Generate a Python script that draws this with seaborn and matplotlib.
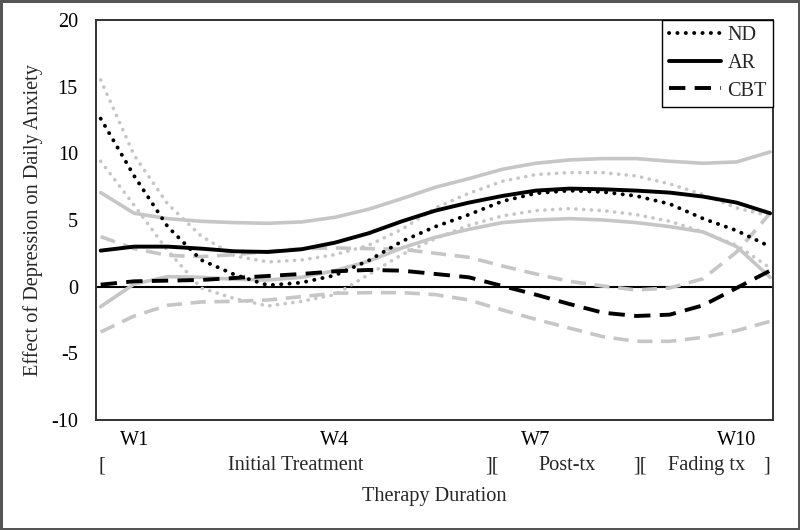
import numpy as np
import pandas as pd
import matplotlib
matplotlib.use("Agg")
import matplotlib.pyplot as plt
import seaborn as sns

sns.set_style("white")
plt.rcParams["font.family"] = ["Liberation Serif", "DejaVu Serif"]
plt.rcParams["axes.unicode_minus"] = False

# ---- data ----
weeks = [0.5, 1, 1.5, 2, 2.5, 3, 3.5, 4, 4.5, 5, 5.5, 6, 6.5, 7, 7.5, 8, 8.5, 9, 9.5, 10, 10.5]

nd_mean = [12.6, 8.3, 4.5, 2.0, 0.9, 0.1, 0.3, 0.85, 1.95, 3.4, 4.5, 5.4, 6.4, 7.0, 7.2, 7.1, 6.8, 6.2, 5.1, 4.2, 3.0]
nd_upper = [15.5, 9.85, 6.2, 3.8, 2.3, 1.85, 2.0, 2.4, 3.1, 4.3, 5.9, 7.0, 7.9, 8.4, 8.55, 8.55, 8.3, 7.7, 6.9, 5.9, 5.3]
nd_lower = [9.4, 6.1, 2.7, -0.1, -0.9, -1.45, -1.1, -0.6, 0.9, 2.4, 3.6, 4.6, 5.3, 5.7, 5.85, 5.7, 5.4, 4.9, 4.1, 3.1, 1.4]

ar_mean = [2.7, 3.0, 3.0, 2.85, 2.65, 2.6, 2.8, 3.3, 4.0, 4.9, 5.7, 6.3, 6.8, 7.2, 7.35, 7.3, 7.2, 7.05, 6.75, 6.3, 5.5]
ar_upper = [7.05, 5.5, 5.1, 4.9, 4.8, 4.75, 4.85, 5.2, 5.8, 6.6, 7.45, 8.1, 8.8, 9.25, 9.5, 9.6, 9.6, 9.4, 9.25, 9.35, 10.1]
ar_lower = [-1.5, 0.2, 0.75, 0.7, 0.55, 0.5, 0.7, 1.2, 1.9, 2.9, 3.7, 4.3, 4.8, 5.0, 5.1, 5.0, 4.8, 4.5, 4.1, 3.0, 0.7]

cbt_mean = [0.15, 0.4, 0.45, 0.5, 0.65, 0.8, 0.95, 1.15, 1.25, 1.2, 0.95, 0.7, 0.05, -0.6, -1.3, -1.95, -2.2, -2.1, -1.4, -0.1, 1.2]
cbt_upper = [3.75, 2.85, 2.35, 2.25, 2.4, 2.65, 2.85, 2.9, 2.85, 2.8, 2.5, 2.2, 1.55, 0.95, 0.4, 0.05, -0.25, -0.1, 0.6, 2.6, 5.5]
cbt_lower = [-3.4, -2.2, -1.4, -1.15, -1.1, -1.0, -0.75, -0.5, -0.45, -0.45, -0.6, -1.0, -1.75, -2.45, -3.1, -3.75, -4.1, -4.1, -3.8, -3.3, -2.6]

groups = ["ND", "AR", "CBT"]
week_ticks = [1, 4, 7, 10]
week_labels = ["W1", "W4", "W7", "W10"]
phase_texts = ["[", "Initial Treatment", "][", "Post-tx", "][", "Fading tx", "]"]
phase_pos = [0.52, 3.42, 6.34, 7.46, 8.55, 9.55, 10.45]
y_ticks = [-10, -5, 0, 5, 10, 15, 20]

series = {
    "ND": (nd_mean, nd_upper, nd_lower),
    "AR": (ar_mean, ar_upper, ar_lower),
    "CBT": (cbt_mean, cbt_upper, cbt_lower),
}

rows = []
for g in groups:
    m, u, l = series[g]
    for kind, vals in (("mean", m), ("upper", u), ("lower", l)):
        for w, v in zip(weeks, vals):
            rows.append({"group": g, "kind": kind, "week": w, "effect": v})
df = pd.DataFrame(rows)

FS = 14.6

# ---- figure ----
fig = plt.figure(figsize=(8, 5.3), dpi=100, edgecolor="#555555", linewidth=2.5)
ax = fig.add_axes([0.12, 0.2075, 0.846, 0.755])

ax.axhline(0, color="black", lw=1.5, zorder=1)

styles = {
    "ND": dict(linestyle=(0, (0.05, 2.1)), dash_capstyle="round"),
    "AR": dict(linestyle="-"),
    "CBT": dict(linestyle=(0, (4.2, 2.4)), dash_capstyle="butt"),
}
gray = "#c6c6c6"
for g in groups:
    for kind in ("upper", "lower"):
        sub = df[(df.group == g) & (df.kind == kind)]
        sns.lineplot(data=sub, x="week", y="effect", ax=ax, color=gray, lw=2.6,
                     estimator=None, sort=False, legend=False, zorder=2, **styles[g])
for g in groups:
    sub = df[(df.group == g) & (df.kind == "mean")]
    sns.lineplot(data=sub, x="week", y="effect", ax=ax, color="black", lw=2.8,
                 estimator=None, sort=False, legend=False, zorder=3, label=g, **styles[g])

ax.set_xlim(0.43, 10.54)
ax.set_ylim(-10, 20)
ax.set_yticks(y_ticks)
ax.set_yticklabels([str(t) for t in y_ticks])
ax.set_xticks(week_ticks)
ax.set_xticklabels(week_labels)
ax.tick_params(axis="both", length=0, labelsize=FS, colors="black")
ax.tick_params(axis="y", pad=13)
ax.tick_params(axis="x", pad=8)

for s in ax.spines.values():
    s.set_color("#333333")
    s.set_linewidth(1.4)

for txt, pos in zip(phase_texts, phase_pos):
    ax.annotate(txt, xy=(pos, 0), xycoords=("data", "axes fraction"),
                xytext=(0, -33), textcoords="offset points",
                ha="center", va="center", fontsize=FS)

ax.set_xlabel("Therapy Duration", fontsize=FS)
ax.set_ylabel("Effect of Depression on Daily Anxiety", fontsize=FS)
ax.xaxis.set_label_coords(0.5, -0.168)
ax.yaxis.set_label_coords(-0.079, 0.5)

handles = ax.get_lines()
leg_lines = [l for l in handles if l.get_label() in groups]
leg = ax.legend(leg_lines, [l.get_label() for l in leg_lines], loc="upper right",
                bbox_to_anchor=(1, 1), borderaxespad=0, fontsize=FS, frameon=True,
                fancybox=False, framealpha=1, edgecolor="black", handlelength=2.6,
                handletextpad=0.3, labelspacing=0.42, borderpad=0.3)
leg.get_frame().set_linewidth(1.0)

fig.savefig("out.png", dpi=100, edgecolor=fig.get_edgecolor())
